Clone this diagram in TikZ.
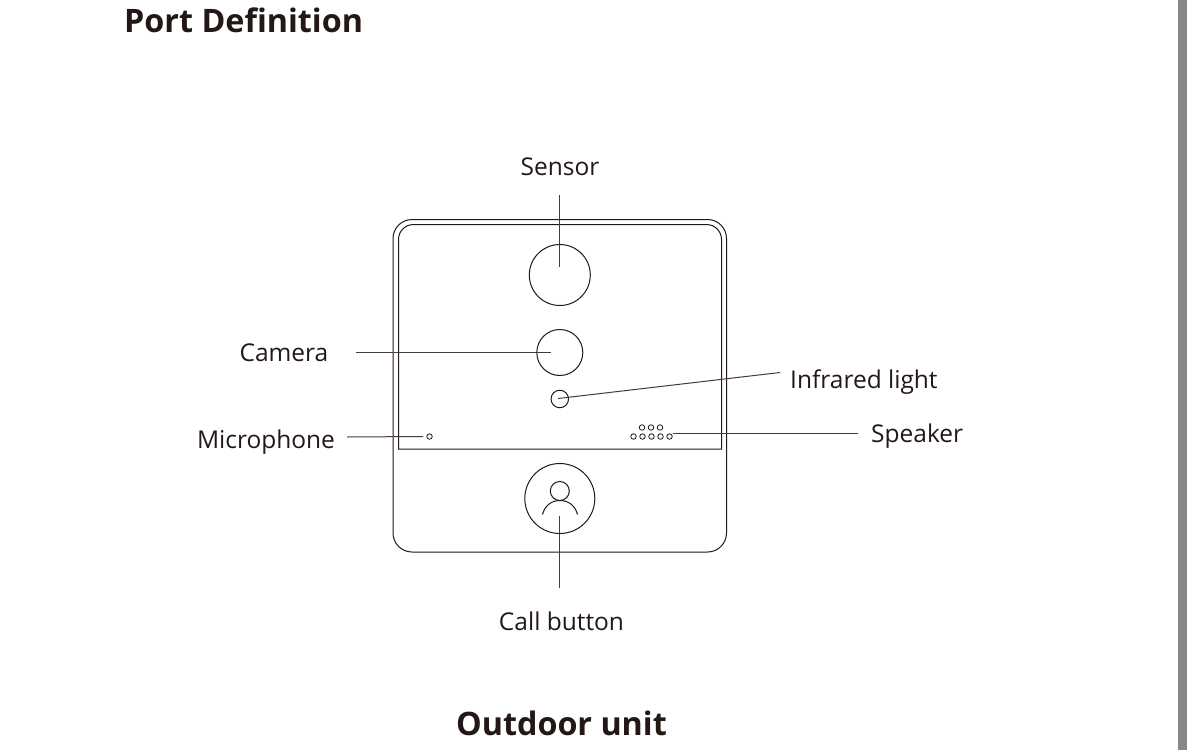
\documentclass[tikz,border=0pt]{standalone}
\usepackage{fontspec}
\setmainfont{Open Sans}
\usepackage{tikz}
\usetikzlibrary{calc}
\usetikzlibrary{positioning}
\definecolor{inkdark}{HTML}{231815}
\tikzset {
    part/.style = {shape=circle, draw=inkdark, line width=1pt, inner sep=0pt},
    hole/.style = {part, line width=0.8pt, minimum size=5.5pt},
    callout/.style = {draw=inkdark!85, line width=1pt},
    partname/.style = {text=inkdark, font=\fontsize{24.5}{29}\selectfont, inner sep=0pt},
    heading/.style = {text=inkdark, font=\fontsize{32.3}{38}\selectfont\bfseries, inner sep=0pt}
}

\begin{document}
\begin{tikzpicture}[x=1pt, y=-1pt]
	\useasboundingbox (0,0) rectangle (1187,750);
	\fill[white] (0,0) rectangle (1187,750);
	\fill[black!47] (1178,0) rectangle (1187,750);
	% headings
	\node (title) [heading, anchor=west] at (124,20.5) {Port Definition};
	\node (caption) [heading] at (561.5,723) {Outdoor unit};
	% body
	\draw[inkdark, line width=1pt, rounded corners=19pt] (393,219.5) rectangle (726.5,552);
	\draw[inkdark, line width=1pt] (398.5,449) [rounded corners=15pt] -- (398.5,224.5) -- (721.5,224.5) -- (721.5,300) [sharp corners] -- (721.5,449) -- cycle;
	\node (sensor) [part, minimum size=61pt] at (559.8,275) {};
	\node (camera) [part, minimum size=46pt] at (559.8,352.5) {};
	\node (infrared) [part, minimum size=17.5pt] at (559.8,399) {};
	\node (mic) [hole] at (429.5,436.5) {};
	\foreach \x/\n in {642/a,651/b,660/c}
		\node (top\n) [hole] at (\x,427.5) {};
	\foreach \x/\n in {633.5/a,642.5/b,651.5/c,660.5/d,669.5/e}
		\node (low\n) [hole] at (\x,436.5) {};
	\node (button) [part, minimum size=70pt] at (559.8,498.5) {};
	\node (head) [part, minimum size=19pt] at (559.8,491) {};
	\draw[inkdark, line width=1pt] (542.5,514.5) .. controls (545,505) and (552,500.5) .. (559.8,500.5) .. controls (568,500.5) and (575,505) .. (577.5,514.5);
	% labels
	\node (sensorname) [partname] at (560,166.5) {Sensor};
	\node (cameraname) [partname] at (284,353) {Camera};
	\node (irname) [partname, anchor=west] at (790,382) {Infrared light};
	\node (micname) [partname] at (266,442) {Microphone};
	\node (speakername) [partname, anchor=west] at (871,436) {Speaker};
	\node (callname) [partname] at (561.5,621) {Call button};
	% free ends of the lines
	\coordinate (s1) at (559.8,195);
	\coordinate (s2) at (559.8,267);
	\coordinate (c1) at (356,352.5);
	\coordinate (c2) at (551,352.5);
	\coordinate (i1) at (780,372.5);
	\coordinate (i2) at (558,398.5);
	\coordinate (m1) at (347,437);
	\coordinate (m2) at (423,436.5);
	\coordinate (p1) at (858,433);
	\coordinate (p2) at (673,433);
	\coordinate (b1) at (559.8,588);
	\coordinate (b2) at (559.8,516);
	\draw[callout] (s1) -- (s2);
	\draw[callout] (c1) -- (c2);
	\draw[callout] (i1) -- (i2);
	\draw[callout] (m1) -- (m2);
	\draw[callout] (p1) -- (p2);
	\draw[callout] (b1) -- (b2);
\end{tikzpicture}
\end{document}
